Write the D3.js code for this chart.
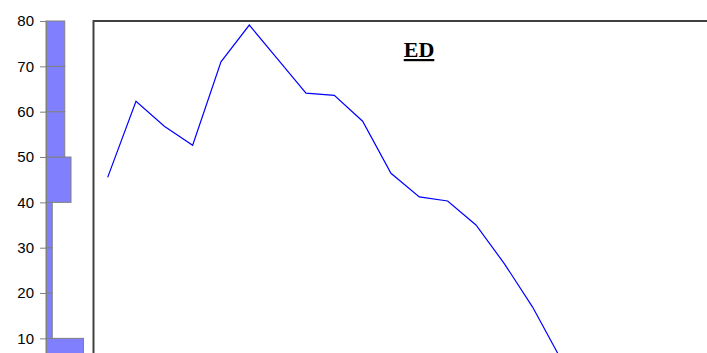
<!DOCTYPE html>
<html>
<head>
<meta charset="utf-8">
<script src="https://cdn.jsdelivr.net/npm/d3@7"></script>
<style>
  html, body { margin: 0; padding: 0; background: #fff; }
  svg { display: block; }
</style>
</head>
<body>
<svg id="chart" width="707" height="353"></svg>
<script>
// Series: ED by period
const periods = d3.range(1, 23);
const edValues = [45.5, 62.3, 56.8, 52.6, 71.0, 79.1, 71.6, 64.1, 63.6, 57.9, 46.4,
                  41.2, 40.3, 35.0, 26.5, 16.9, 5.4, 4.1, 3.0, 2.2, 1.5, 0.9];
const yTicks = [10, 20, 30, 40, 50, 60, 70, 80];
const binEdges = [10, 20, 30, 40, 50, 60, 70];
const chartTitle = "ED";

const svg = d3.select("#chart");

// Shared value scale (marginal histogram + line panel)
const y = d3.scaleLinear().domain([0, 80]).range([383.7, 21]);

// Marginal histogram of the series values
const bins = d3.bin().domain([0, 80]).thresholds(binEdges)(edValues);
const xCount = d3.scaleLinear().domain([0, 1]).range([46, 52.25]);

svg.append("g")
  .selectAll("rect")
  .data(bins)
  .join("rect")
    .attr("x", xCount(0))
    .attr("y", d => y(d.x1))
    .attr("width", d => xCount(d.length) - xCount(0))
    .attr("height", d => y(d.x0) - y(d.x1))
    .attr("fill", "#8080ff")
    .attr("stroke", "#808080")
    .attr("stroke-width", 1);

// Value axis
const axis = svg.append("g")
  .attr("transform", `translate(${xCount(0)},0)`)
  .call(d3.axisLeft(y).tickValues(yTicks).tickSize(6).tickPadding(6));
axis.select(".domain").attr("stroke", "#808080");
axis.selectAll(".tick line").attr("stroke", "#808080");
axis.selectAll(".tick text")
  .attr("fill", "#000")
  .style("font-family", "'Liberation Sans', Arial, sans-serif")
  .style("font-size", "15px");

// Line panel
const panelLeft = 93.5;
const step = 28.33;
const x = d3.scalePoint()
  .domain(periods)
  .range([panelLeft + step / 2, panelLeft + step / 2 + step * (periods.length - 1)]);

svg.append("rect")
  .attr("x", panelLeft)
  .attr("y", y(80))
  .attr("width", step * periods.length)
  .attr("height", 400)
  .attr("fill", "none")
  .attr("stroke", "#404040")
  .attr("stroke-width", 2);

const line = d3.line()
  .x((d, i) => x(periods[i]))
  .y(d => y(d));

svg.append("path")
  .datum(edValues)
  .attr("d", line)
  .attr("fill", "none")
  .attr("stroke", "#0000ff")
  .attr("stroke-width", 1.2);

svg.append("text")
  .attr("x", 419)
  .attr("y", 57)
  .attr("text-anchor", "middle")
  .style("font-family", "'Liberation Serif', 'Times New Roman', serif")
  .style("font-weight", "bold")
  .style("font-size", "22px")
  .style("text-decoration", "underline")
  .text(chartTitle);
</script>
</body>
</html>
